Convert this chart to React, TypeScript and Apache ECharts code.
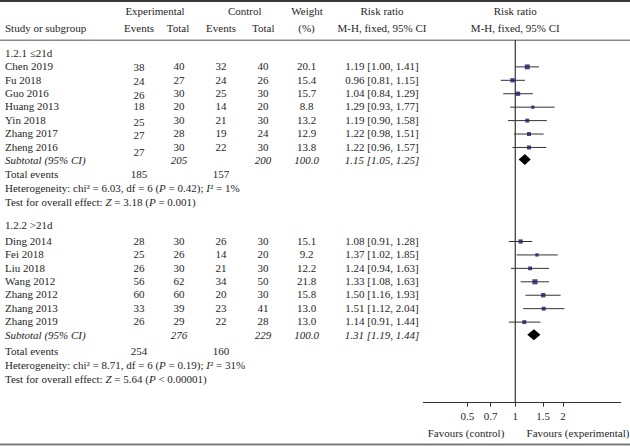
import React, { useEffect, useRef } from 'react';
import * as echarts from 'echarts';

const FONT = '"Liberation Serif", "Times New Roman", serif';
const TXT = '#262626';

// ---------- data ----------
const groupLabels = ['1.2.1 ≤21d', '1.2.2 >21d'];

const studies1 = ['Chen 2019', 'Fu 2018', 'Guo 2016', 'Huang 2013', 'Yin 2018', 'Zhang 2017', 'Zheng 2016'];
const expEvents1 = [38, 24, 26, 18, 25, 27, 27];
const expTotal1 = [40, 27, 30, 20, 30, 28, 30];
const ctrlEvents1 = [32, 24, 25, 14, 21, 19, 22];
const ctrlTotal1 = [40, 26, 30, 20, 30, 24, 30];
const weight1 = [20.1, 15.4, 15.7, 8.8, 13.2, 12.9, 13.8];
const rr1 = [1.19, 0.96, 1.04, 1.29, 1.19, 1.22, 1.22];
const lo1 = [1.0, 0.81, 0.84, 0.93, 0.9, 0.98, 0.96];
const hi1 = [1.41, 1.15, 1.29, 1.77, 1.58, 1.51, 1.57];

const studies2 = ['Ding 2014', 'Fei 2018', 'Liu 2018', 'Wang 2012', 'Zhang 2012', 'Zhang 2013', 'Zhang 2019'];
const expEvents2 = [28, 25, 26, 56, 60, 33, 26];
const expTotal2 = [30, 26, 30, 62, 60, 39, 29];
const ctrlEvents2 = [26, 14, 21, 34, 20, 23, 22];
const ctrlTotal2 = [30, 20, 30, 50, 30, 41, 28];
const weight2 = [15.1, 9.2, 12.2, 21.8, 15.8, 13.0, 13.0];
const rr2 = [1.08, 1.37, 1.24, 1.33, 1.5, 1.51, 1.14];
const lo2 = [0.91, 1.02, 0.94, 1.08, 1.16, 1.12, 0.91];
const hi2 = [1.28, 1.85, 1.63, 1.63, 1.93, 2.04, 1.44];

const subExpTotal = [205, 276];
const subCtrlTotal = [200, 229];
const subWeight = [100.0, 100.0];
const subRR = [1.15, 1.31];
const subLo = [1.05, 1.19];
const subHi = [1.25, 1.44];
const totExpEvents = [185, 254];
const totCtrlEvents = [157, 160];
const hetChi2 = ['6.03', '8.71'];
const hetDf = [6, 6];
const hetP = ['= 0.42', '= 0.19'];
const hetI2 = [1, 31];
const zValue = ['3.18', '5.64'];
const zP = ['= 0.001', '< 0.00001'];

const tickValues = [0.5, 0.7, 1, 1.5, 2];

// ---------- layout (row positions on the y scale, column x positions) ----------
const groupRowStart = [1, 14];
const groupHeaderRow = [0, 12.83];
const subtotalRow = [8, 21];
const diamondRow = [7.9, 20.95];
const totalRow = [9.05, 22.2];
const hetRow = [10.1, 23.25];
const testRow = [11.15, 24.3];
const expEventsNudge1 = [1, 1, 2, 0, 2, 2, 5];

const COL = { study: 5, expEv: 139, expTot: 179, ctrlEv: 221, ctrlTot: 263, weight: 306.5, rr: 382 };

type Cell = { t: string; x: number; a: 'left' | 'center' | 'right'; it?: boolean; dy?: number };
type Row = { r: number; cells: Cell[] };

const groups = [
  { s: studies1, ee: expEvents1, et: expTotal1, ce: ctrlEvents1, ct: ctrlTotal1, w: weight1, rr: rr1, lo: lo1, hi: hi1 },
  { s: studies2, ee: expEvents2, et: expTotal2, ce: ctrlEvents2, ct: ctrlTotal2, w: weight2, rr: rr2, lo: lo2, hi: hi2 },
];

const fmtRR = (r: number, l: number, h: number) => `${r.toFixed(2)} [${l.toFixed(2)}, ${h.toFixed(2)}]`;

const tableRows: Row[] = [];
const ciData: number[][] = [];
const squareData: number[][] = [];
const diamondData: number[][] = [];

groups.forEach((g, gi) => {
  tableRows.push({ r: groupHeaderRow[gi], cells: [{ t: groupLabels[gi], x: COL.study, a: 'left' }] });
  g.s.forEach((name, i) => {
    const r = groupRowStart[gi] + i;
    tableRows.push({
      r,
      cells: [
        { t: name, x: COL.study, a: 'left' },
        { t: String(g.ee[i]), x: COL.expEv, a: 'center', dy: gi === 0 ? expEventsNudge1[i] : 0 },
        { t: String(g.et[i]), x: COL.expTot, a: 'center' },
        { t: String(g.ce[i]), x: COL.ctrlEv, a: 'center' },
        { t: String(g.ct[i]), x: COL.ctrlTot, a: 'center' },
        { t: g.w[i].toFixed(1), x: COL.weight, a: 'center' },
        { t: fmtRR(g.rr[i], g.lo[i], g.hi[i]), x: COL.rr, a: 'center' },
      ],
    });
    ciData.push([Math.log(g.lo[i]), Math.log(g.hi[i]), r]);
    squareData.push([Math.log(g.rr[i]), r, g.w[i]]);
  });
  tableRows.push({
    r: subtotalRow[gi],
    cells: [
      { t: 'Subtotal (95% CI)', x: COL.study, a: 'left', it: true },
      { t: String(subExpTotal[gi]), x: COL.expTot, a: 'center', it: true },
      { t: String(subCtrlTotal[gi]), x: COL.ctrlTot, a: 'center', it: true },
      { t: subWeight[gi].toFixed(1), x: COL.weight, a: 'center', it: true },
      { t: fmtRR(subRR[gi], subLo[gi], subHi[gi]), x: COL.rr, a: 'center', it: true },
    ],
  });
  diamondData.push([Math.log(subLo[gi]), Math.log(subRR[gi]), Math.log(subHi[gi]), diamondRow[gi]]);
  tableRows.push({
    r: totalRow[gi],
    cells: [
      { t: 'Total events', x: COL.study, a: 'left' },
      { t: String(totExpEvents[gi]), x: COL.expEv, a: 'center' },
      { t: String(totCtrlEvents[gi]), x: COL.ctrlEv, a: 'center' },
    ],
  });
  tableRows.push({
    r: hetRow[gi],
    cells: [
      {
        t: `Heterogeneity: chi² = ${hetChi2[gi]}, df = ${hetDf[gi]} ({i|P} ${hetP[gi]}); {i|I}² = ${hetI2[gi]}%`,
        x: COL.study,
        a: 'left',
      },
    ],
  });
  tableRows.push({
    r: testRow[gi],
    cells: [{ t: `Test for overall effect: {i|Z} = ${zValue[gi]} ({i|P} ${zP[gi]})`, x: COL.study, a: 'left' }],
  });
});

const richStyle = { i: { fontStyle: 'italic', fontFamily: FONT, fontSize: 11, fill: TXT } };

function txt(t: string, x: number, y: number, align: string) {
  return {
    type: 'text',
    x,
    y,
    silent: true,
    style: {
      text: t,
      fontFamily: FONT,
      fontSize: 11,
      fill: TXT,
      align,
      textAlign: align,
      verticalAlign: 'middle',
      textVerticalAlign: 'middle',
    },
  };
}

function hline(y: number, w: number, c: string) {
  return { type: 'line', silent: true, shape: { x1: 0, y1: y, x2: 630, y2: y }, style: { stroke: c, lineWidth: w } };
}

export default function App() {
  const ref = useRef<HTMLDivElement>(null);
  useEffect(() => {
    if (!ref.current) return;
    const chart = echarts.init(ref.current, null, { renderer: 'svg' });
    const option: any = {
      animation: false,
      backgroundColor: '#ffffff',
      grid: { left: 423.3, right: 9.3, top: 40, bottom: 43.3, containLabel: false },
      xAxis: {
        type: 'value',
        position: 'bottom',
        min: Math.log(0.2636),
        max: Math.log(4.61),
        splitLine: { show: false },
        axisLine: { show: true, onZero: false, lineStyle: { color: '#333', width: 1 } },
        axisTick: { show: true, length: 4, customValues: tickValues.map(Math.log), lineStyle: { color: '#333' } },
        axisLabel: {
          show: true,
          customValues: tickValues.map(Math.log),
          formatter: (v: number) => String(Number(Math.exp(v).toPrecision(3))),
          fontFamily: FONT,
          fontSize: 11,
          color: TXT,
          margin: 8,
        },
      },
      yAxis: { type: 'value', inverse: true, min: -1, max: 26, show: false },
      series: [
        {
          type: 'line',
          data: [
            [0, -1],
            [0, 26],
          ],
          symbol: 'none',
          silent: true,
          lineStyle: { color: '#333', width: 1.2 },
          z: 1,
        },
        {
          type: 'custom',
          data: ciData,
          encode: { x: [0, 1], y: 2 },
          silent: true,
          z: 2,
          renderItem: (_p: any, api: any) => {
            const a = api.coord([api.value(0), api.value(2)]);
            const b = api.coord([api.value(1), api.value(2)]);
            return {
              type: 'line',
              shape: { x1: a[0], y1: a[1], x2: b[0], y2: b[1] },
              style: { stroke: '#333', lineWidth: 1 },
            };
          },
        },
        {
          type: 'scatter',
          data: squareData,
          symbol: 'rect',
          symbolSize: (v: number[]) => 1.1 * Math.sqrt(v[2]),
          itemStyle: { color: '#1a1a66' },
          silent: true,
          z: 3,
        },
        {
          type: 'custom',
          data: diamondData,
          encode: { x: [0, 1, 2], y: 3 },
          silent: true,
          z: 3,
          renderItem: (_p: any, api: any) => {
            const l = api.coord([api.value(0), api.value(3)]);
            const c = api.coord([api.value(1), api.value(3)]);
            const h = api.coord([api.value(2), api.value(3)]);
            return {
              type: 'polygon',
              shape: {
                points: [
                  [l[0], l[1]],
                  [c[0], c[1] - 5.5],
                  [h[0], h[1]],
                  [c[0], c[1] + 5.5],
                ],
              },
              style: { fill: '#000' },
            };
          },
        },
        {
          type: 'custom',
          data: tableRows.map((row) => [0, row.r]),
          encode: { x: 0, y: 1 },
          clip: false,
          silent: true,
          z: 4,
          renderItem: (p: any, api: any) => {
            const row = tableRows[p.dataIndex];
            const y = api.coord([0, row.r])[1] - 0.8;
            return {
              type: 'group',
              children: row.cells.map((c) => ({
                type: 'text',
                x: c.x,
                y: y + (c.dy || 0),
                style: {
                  text: c.t,
                  fontFamily: FONT,
                  fontSize: 11,
                  fontStyle: c.it ? 'italic' : 'normal',
                  fill: TXT,
                  align: c.a,
                  verticalAlign: 'middle',
                  rich: richStyle,
                },
              })),
            };
          },
        },
      ],
      graphic: [
        hline(1, 2, '#3a3a3a'),
        hline(40.3, 1.4, '#8a8a8a'),
        hline(444.5, 2, '#7a7a7a'),
        txt('Experimental', 155, 10.5, 'center'),
        txt('Control', 244.7, 10.5, 'center'),
        txt('Weight', 307, 10.5, 'center'),
        txt('Risk ratio', 382, 10.5, 'center'),
        txt('Risk ratio', 515.3, 10.5, 'center'),
        txt('Study or subgroup', 5, 28.3, 'left'),
        txt('Events', 139, 28.3, 'center'),
        txt('Total', 178, 28.3, 'center'),
        txt('Events', 221, 28.3, 'center'),
        txt('Total', 263.3, 28.3, 'center'),
        txt('(%)', 306.5, 28.3, 'center'),
        txt('M-H, fixed, 95% CI', 382, 28.3, 'center'),
        txt('M-H, fixed, 95% CI', 515.3, 28.3, 'center'),
        txt('Favours (control)', 466, 433.3, 'center'),
        txt('Favours (experimental)', 578, 433.3, 'center'),
      ],
    };
    chart.setOption(option);
    return () => chart.dispose();
  }, []);
  return <div ref={ref} style={{ position: 'fixed', left: 0, top: 0, width: 630, height: 446 }} />;
}
